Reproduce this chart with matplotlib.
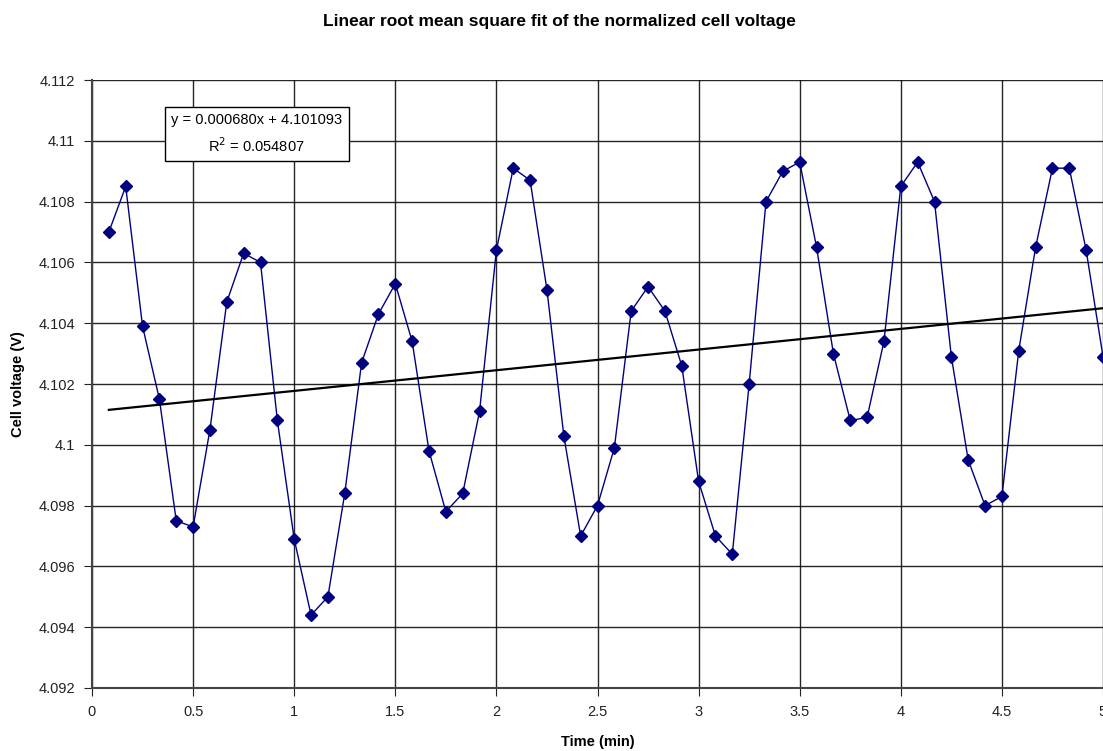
import numpy as np
import matplotlib.pyplot as plt

plt.rcParams['font.family'] = ['Liberation Sans', 'DejaVu Sans']

# time in minutes, one sample every 5 s
time_min = np.arange(1, 61) / 12.0
voltage = [4.1070, 4.1085, 4.1039, 4.1015, 4.0975, 4.0973, 4.1005, 4.1047, 4.1063, 4.1060,
           4.1008, 4.0969, 4.0944, 4.0950, 4.0984, 4.1027, 4.1043, 4.1053, 4.1034, 4.0998,
           4.0978, 4.0984, 4.1011, 4.1064, 4.1091, 4.1087, 4.1051, 4.1003, 4.0970, 4.0980,
           4.0999, 4.1044, 4.1052, 4.1044, 4.1026, 4.0988, 4.0970, 4.0964, 4.1020, 4.1080,
           4.1090, 4.1093, 4.1065, 4.1030, 4.1008, 4.1009, 4.1034, 4.1085, 4.1093, 4.1080,
           4.1029, 4.0995, 4.0980, 4.0983, 4.1031, 4.1065, 4.1091, 4.1091, 4.1064, 4.1029]

slope = 0.000680
intercept = 4.101093
r2 = 0.054807

fig = plt.figure(figsize=(11.03, 7.51), dpi=100)
ax = fig.add_axes([92 / 1103, 63 / 751, 1011 / 1103, 608 / 751])

ax.plot(time_min, voltage, color='#000080', lw=1, marker='D', ms=6,
        mfc='#000080', mec='#000080', zorder=3)
tx = np.array([time_min[0], time_min[-1]])
ax.plot(tx, slope * tx + intercept, color='black', lw=1.6, zorder=4)

ax.set_xlim(0, 5)
ax.set_ylim(4.092, 4.112)
ax.set_xticks(np.arange(0, 5.01, 0.5))
ax.set_xticklabels(['0', '0.5', '1', '1.5', '2', '2.5', '3', '3.5', '4', '4.5', '5'])
yt = np.arange(4.092, 4.1121, 0.002)
ax.set_yticks(yt)
ax.set_yticklabels(['4.092', '4.094', '4.096', '4.098', '4.1', '4.102', '4.104',
                    '4.106', '4.108', '4.11', '4.112'])
ax.grid(True, color='black', lw=1, alpha=0.85)
ax.tick_params(labelsize=10.5, length=6, direction='out', pad=6, colors='#222222')
for s in ['top', 'right']:
    ax.spines[s].set_visible(False)
for s in ['left', 'bottom']:
    ax.spines[s].set_color('#444444')
    ax.spines[s].set_linewidth(1.5)

ax.set_xlabel('Time (min)', fontsize=10.5, fontweight='bold', labelpad=12)
ax.set_ylabel('Cell voltage (V)', fontsize=10.5, fontweight='bold', labelpad=10)
fig.suptitle('Linear root mean square fit of the normalized cell voltage',
             fontsize=12.5, fontweight='bold', x=0.507, y=0.981)

ax.text(0.163, 0.911, 'y = %.6fx + %.6f\nR$^2$ = %.6f' % (slope, intercept, r2),
        transform=ax.transAxes, ha='center', va='center', fontsize=10.5,
        multialignment='center', linespacing=1.55,
        bbox=dict(boxstyle='square,pad=0.45', fc='white', ec='black', lw=1), zorder=5)

fig.savefig('out.png', dpi=100)
